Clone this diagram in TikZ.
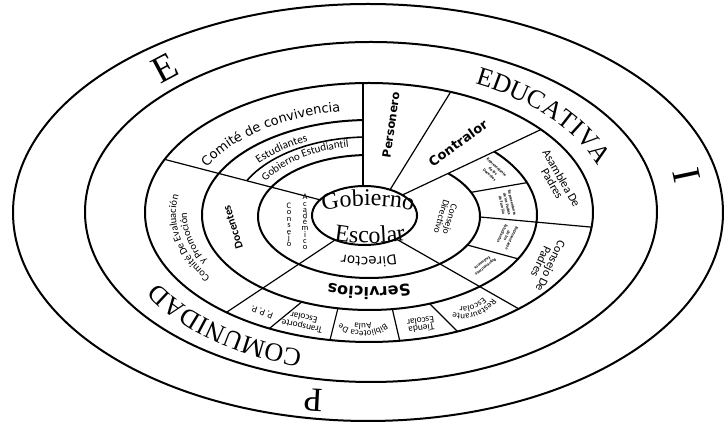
\documentclass[tikz,border=0pt]{standalone}
\usepackage{fontspec}
\setmainfont{Liberation Serif}
\newfontfamily\fcar{Carlito}
\newfontfamily\fdv{DejaVu Sans}
\usetikzlibrary{decorations.text}
\begin{document}
\begin{tikzpicture}[x=1pt,y=1pt,
  ringline/.style={line width=2pt},
  radline/.style={line width=1.2pt},
  lbl/.style={inner sep=0pt, align=center},
  tiny/.style={inner sep=0pt, align=center, font=\fcar\bfseries\fontsize{4.2}{5.2}\selectfont}
]
\useasboundingbox (0,0) rectangle (724,425);
\fill[white] (0,0) rectangle (724,425);

% ---- radial lines from centre ellipse to E3
\begin{scope}
\clip (593,212.5) arc[start angle=0,end angle=360,x radius=224pt,y radius=129.5pt] -- cycle
      (417,209.5) arc[start angle=360,end angle=0,x radius=52.5pt,y radius=29.5pt] -- cycle;
\draw[radline] (363,220) -- (363,400);
\draw[radline] (375.9,212.4) -- (478.5,378);
\draw[radline] (374.9,217) -- (603.5,325);
\draw[radline] (349.5,217.5) -- (123.2,276.4);
\draw[radline] (356.6,199.4) -- (194.6,91.4);
\draw[radline] (370.8,200.5) -- (576,83.5);
\end{scope}
% ---- line from R1 to E3
\begin{scope}
\clip (593,212.5) arc[start angle=0,end angle=360,x radius=224pt,y radius=129.5pt] -- cycle
      (480,208.5) arc[start angle=360,end angle=0,x radius=111pt,y radius=61.5pt] -- cycle;
\draw[radline] (458,210) -- (623,195);
\end{scope}
% ---- small dividers between R1 and R3
\begin{scope}
\clip (537,210) arc[start angle=0,end angle=360,x radius=167.5pt,y radius=95pt] -- cycle
      (480,208.5) arc[start angle=360,end angle=0,x radius=111pt,y radius=61.5pt] -- cycle;
\draw[radline] (447,228.5) -- (551,246.5);
\draw[radline] (432.5,189.5) -- (542.5,159.5);
\end{scope}
% ---- bottom dividers between R3 and E3
\begin{scope}
\clip (593,212.5) arc[start angle=0,end angle=360,x radius=224pt,y radius=129.5pt] -- cycle
      (537,210) arc[start angle=360,end angle=0,x radius=167.5pt,y radius=95pt] -- cycle;
\draw[radline] (312,131.5) -- (256,85.5);
\draw[radline] (340.5,127) -- (326.5,71);
\draw[radline] (389.5,128) -- (403.5,68);
\draw[radline] (420.5,130.5) -- (470.5,80.5);
\end{scope}
% ---- R1 and R3 except Personero / Contralor wedge
\begin{scope}
\clip (-10,-10) -- (810,-10) -- (810,510) -- (-10,510) -- cycle
      (363,211.4) -- (363,505) -- (805,505) -- (805,420.2) -- cycle;
\draw[ringline] (369.5,210) ellipse[x radius=167.5pt, y radius=95pt];
\draw[ringline] (369,208.5) ellipse[x radius=111pt, y radius=61.5pt];
\end{scope}
% ---- R2 partial arc
\begin{scope}
\clip (363,214) -- (363,505) -- (-10,505) -- (-10,311) -- cycle;
\draw[line width=1.6pt] (369,210) ellipse[x radius=136pt, y radius=78pt];
\end{scope}
% ---- main ellipses
\draw[ringline] (368,212.5) ellipse[x radius=355pt, y radius=208.5pt];
\draw[ringline] (371,213) ellipse[x radius=286pt, y radius=170pt];
\draw[ringline] (369,212.5) ellipse[x radius=224pt, y radius=129.5pt];
\draw[ringline] (364.5,209.5) ellipse[x radius=52.5pt, y radius=29.5pt];

% ---- outer letters
\node[lbl, rotate=28, font=\fontsize{38}{40}\selectfont] (lE) at (165,357) {E};
\node[lbl, rotate=-78, font=\fontsize{40}{42}\selectfont] (lI) at (687,250) {I};
\node[lbl, rotate=177, font=\fontsize{34}{36}\selectfont] (lP) at (313,25) {P};

% ---- curved ring texts
\path[decorate,decoration={text along path,text align=left,
  text={|\fontsize{26}{28}\selectfont|EDUCATIVA}}]
  (369,212.5) ++(64:242pt and 143pt) arc[start angle=64,end angle=-10,x radius=242pt,y radius=143pt];
\path[decorate,decoration={text along path,text align=left,
  text={|\fontsize{26}{28}\selectfont|COMUNIDAD}}]
  (369,212.5) ++(254:242pt and 143pt) arc[start angle=254,end angle=160,x radius=242pt,y radius=143pt];
\path[decorate,decoration={text along path,text align=left,
  text={|\fdv\fontsize{13}{15}\selectfont|Comité de convivencia}}]
  (369,211) ++(153.5:181pt and 104pt) arc[start angle=153.5,end angle=40,x radius=181pt,y radius=104pt];
\path[decorate,decoration={text along path,text align=left,
  text={|\fcar\fontsize{11.5}{13}\selectfont|Estudiantes}}]
  (369,210) ++(141.3:141pt and 82pt) arc[start angle=141.3,end angle=60,x radius=141pt,y radius=82pt];
\path[decorate,decoration={text along path,text align=left,
  text={|\fcar\fontsize{11}{13}\selectfont|Gobierno Estudiantil}}]
  (369,210) ++(151:118pt and 69pt) arc[start angle=151,end angle=40,x radius=118pt,y radius=69pt];
\path[decorate,decoration={text along path,text align=left,
  text={|\fcar\fontsize{10.5}{12}\selectfont|Comité De Evaluación}}]
  (369,211) ++(214.6:193pt and 111pt) arc[start angle=214.6,end angle=130,x radius=193pt,y radius=111pt];
\path[decorate,decoration={text along path,text align=left,
  text={|\fcar\fontsize{10.5}{12}\selectfont|y Promoción}}]
  (369,211) ++(207:182pt and 104pt) arc[start angle=207,end angle=130,x radius=182pt,y radius=104pt];
\path[decorate,decoration={text along path,text align=center,
  text={|\fontsize{24}{26}\selectfont|Gobierno}}]
  (368,206) ++(170:60pt and 13pt) arc[start angle=170,end angle=10,x radius=60pt,y radius=13pt];
\path[decorate,decoration={text along path,text align=center,
  text={|\fontsize{24}{26}\selectfont|Escolar}}]
  (370,194) ++(200:55pt and 12pt) arc[start angle=200,end angle=340,x radius=55pt,y radius=12pt];
\path[decorate,decoration={text along path,text align=center,
  text={|\fdv\fontsize{13.5}{15}\selectfont|Director}}]
  (369,210) ++(325:82pt and 42pt) arc[start angle=325,end angle=215,x radius=82pt,y radius=42pt];
\path[decorate,decoration={text along path,text align=center,
  text={|\fdv\bfseries\fontsize{16}{18}\selectfont|Servicios}}]
  (369,210) ++(320:130pt and 72pt) arc[start angle=320,end angle=220,x radius=130pt,y radius=72pt];
\path[decorate,decoration={text along path,text align=center,
  text={|\fcar\fontsize{9}{10}\selectfont|Biblioteca De}}]
  (363,131) ++(330:37pt) arc[start angle=330,end angle=210,radius=37pt];
\path[decorate,decoration={text along path,text align=center,
  text={|\fcar\fontsize{9}{10}\selectfont|Aula}}]
  (363,131) ++(330:29.5pt) arc[start angle=330,end angle=210,radius=29.5pt];
\path[decorate,decoration={text along path,text align=center,
  text={|\fcar\fontsize{9}{10}\selectfont|Restaurante}}]
  (463,146) ++(350:35pt) arc[start angle=350,end angle=230,radius=35pt];
\path[decorate,decoration={text along path,text align=center,
  text={|\fcar\fontsize{9}{10}\selectfont|Escolar}}]
  (463,146) ++(350:27.5pt) arc[start angle=350,end angle=230,radius=27.5pt];

% ---- straight labels
\node[lbl, rotate=82, font=\fdv\bfseries\fontsize{11.5}{13}\selectfont] (pers) at (391,300) {Personero};
\node[lbl, rotate=36, font=\fdv\bfseries\fontsize{13}{15}\selectfont] (contr) at (458,282) {Contralor};
\node[lbl, rotate=-60, font=\fcar\fontsize{12}{10.5}\selectfont] (asam) at (557,244) {Asamblea De\\Padres};
\node[lbl, rotate=-115, font=\fcar\fontsize{12}{10.5}\selectfont] (cpad) at (546,161) {Consejo De\\Padres};
\node[lbl, rotate=-107, font=\fcar\fontsize{9.5}{9}\selectfont] (cdir) at (446,207) {Consejo\\Directivo};
\node[lbl, rotate=107, font=\fcar\bfseries\fontsize{11.5}{13}\selectfont] (doc) at (233,198) {Docentes};
\node[lbl, font=\fcar\fontsize{8.5}{6.4}\selectfont] (cac1) at (289,200) {C\\o\\n\\s\\e\\j\\o};
\node[lbl, font=\fcar\fontsize{8.5}{6.2}\selectfont] (cac2) at (305,203) {A\\c\\a\\d\\é\\m\\i\\c\\o};
\node[lbl, rotate=160, font=\fcar\fontsize{9.5}{10}\selectfont] (ppp) at (262,113) {P. P. P.};
\node[lbl, rotate=168, font=\fcar\fontsize{9.5}{7.5}\selectfont] (trans) at (303,103) {Transporte\\Escolar};
\node[lbl, rotate=188, font=\fcar\fontsize{9.5}{7.5}\selectfont] (tienda) at (421,100) {Tienda\\Escolar};

% ---- tiny texts in the Consejo Directivo cells
\node[tiny, rotate=-43] (c1) at (493,254) {Representante\\de los\\Docentes};
\node[tiny, rotate=-77] (c2) at (507,221) {Representante\\de los Padres\\de Familia};
\node[tiny, rotate=-115] (c3) at (507,189) {Representante\\de los\\Estudiantes};
\node[tiny, rotate=-142] (c4) at (484,160) {Representante\\Exalumnos};
\end{tikzpicture}
\end{document}
